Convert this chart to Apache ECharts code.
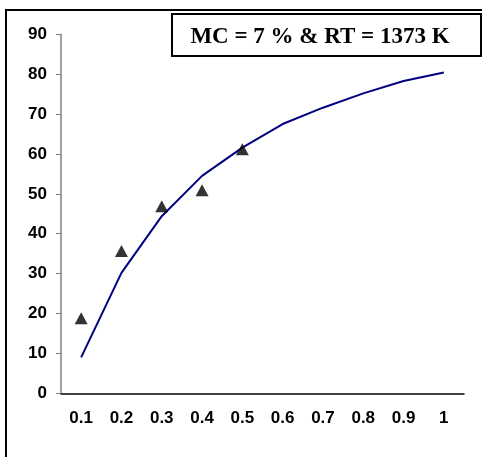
<!DOCTYPE html>
<html>
<head>
<meta charset="utf-8">
<script src="https://cdn.jsdelivr.net/npm/echarts@6/dist/echarts.min.js"></script>
<style>html,body{margin:0;padding:0;background:#fff}#c{width:482px;height:457px}</style>
</head>
<body>
<div id="c"></div>
<script>
var categories = ['0.1','0.2','0.3','0.4','0.5','0.6','0.7','0.8','0.9','1'];
var modelValues = [9.0, 30.2, 44.4, 54.5, 61.6, 67.5, 71.6, 75.2, 78.3, 80.4];
var measuredValues = [18.8, 35.7, 46.9, 50.9, 61.2];
var yTicks = [0, 90, 10];
var titleText = 'MC = 7 % & RT = 1373 K';

var chart = echarts.init(document.getElementById('c'), null, {renderer: 'canvas'});
var labelFont = {fontFamily: 'Liberation Sans, Arial, sans-serif', fontWeight: 'bold', fontSize: 17, color: '#000'};
chart.setOption({
  backgroundColor: '#fff',
  animation: false,
  title: {
    text: titleText,
    left: 315, top: 21, textAlign: 'center',
    textStyle: {fontFamily: 'Liberation Serif, Times New Roman, serif', fontWeight: 'bold', fontSize: 23, color: '#000'}
  },
  graphic: [
    {type: 'rect', shape: {x: 6, y: 10, width: 520, height: 520}, style: {fill: 'none', stroke: '#000', lineWidth: 2}, z: -1},
    {type: 'rect', shape: {x: 172, y: 14, width: 309, height: 42}, style: {fill: '#fff', stroke: '#000', lineWidth: 2}, z: 0}
  ],
  grid: {left: 61, right: 18, top: 34.3, bottom: 63.7, containLabel: false},
  xAxis: {
    type: 'category', data: categories, boundaryGap: true,
    axisLine: {lineStyle: {color: '#000', width: 1.5}},
    axisTick: {show: false},
    axisLabel: Object.assign({margin: 17, interval: 0}, labelFont),
    splitLine: {show: false}
  },
  yAxis: {
    type: 'value', min: yTicks[0], max: yTicks[1], interval: yTicks[2],
    axisLine: {show: true, lineStyle: {color: '#808080', width: 1.5}},
    axisTick: {show: true, inside: false, length: 5, lineStyle: {color: '#808080', width: 1}},
    axisLabel: Object.assign({margin: 14}, labelFont),
    splitLine: {show: false}
  },
  series: [
    {type: 'line', data: modelValues, showSymbol: false, symbol: 'none',
     lineStyle: {color: '#000080', width: 2}, z: 2},
    {type: 'scatter', data: measuredValues, symbol: 'triangle', symbolSize: [13, 12],
     itemStyle: {color: '#000'}, z: 3}
  ]
});
</script>
</body>
</html>
